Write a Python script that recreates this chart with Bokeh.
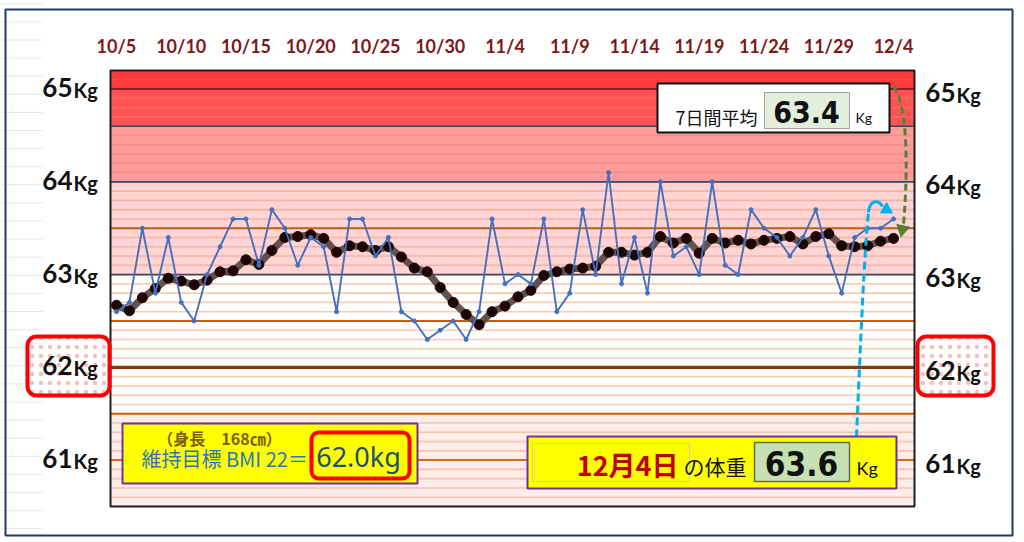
import numpy as np
from bokeh.plotting import figure
from bokeh.models import Range1d
from bokeh.core.properties import value
from bokeh.embed import file_html
from bokeh.resources import INLINE

# ---------------- data ----------------
days = list(range(61))  # 0 = 10/5 ... 60 = 12/4
date_ticks = [0, 5, 10, 15, 20, 25, 30, 35, 40, 45, 50, 55, 60]
date_labels = ["10/5", "10/10", "10/15", "10/20", "10/25", "10/30", "11/4",
               "11/9", "11/14", "11/19", "11/24", "11/29", "12/4"]
daily_weight = [62.6, 62.7, 63.5, 62.8, 63.4, 62.7, 62.5, 63.0, 63.3, 63.6,
                63.6, 63.1, 63.7, 63.5, 63.1, 63.4, 63.3, 62.6, 63.6, 63.6,
                63.2, 63.4, 62.6, 62.5, 62.3, 62.4, 62.5, 62.3, 62.6, 63.6,
                62.9, 63.0, 62.9, 63.6, 62.6, 62.8, 63.7, 63.0, 64.1, 62.9,
                63.4, 62.8, 64.0, 63.2, 63.3, 63.0, 64.0, 63.1, 63.0, 63.7,
                63.5, 63.4, 63.2, 63.4, 63.7, 63.2, 62.8, 63.4, 63.5, 63.5,
                63.6]
avg7_weight = [62.67, 62.61, 62.75, 62.85, 62.96, 62.93, 62.89, 62.94, 63.03, 63.04,
               63.16, 63.11, 63.26, 63.40, 63.41, 63.43, 63.39, 63.24, 63.31, 63.30,
               63.26, 63.30, 63.19, 63.07, 63.03, 62.86, 62.70, 62.57, 62.46, 62.60,
               62.66, 62.76, 62.83, 62.99, 63.03, 63.06, 63.07, 63.09, 63.24, 63.24,
               63.21, 63.24, 63.41, 63.34, 63.39, 63.23, 63.39, 63.34, 63.37, 63.33,
               63.37, 63.39, 63.41, 63.33, 63.41, 63.44, 63.31, 63.30, 63.31, 63.36,
               63.39]
weight_ticks = [61, 62, 63, 64, 65]
weight_tick_labels = ["61", "62", "63", "64", "65"]
target_weight = 62.0
height_cm = 168
bmi_target = 22
latest_avg = 63.4
latest_weight = 63.6
latest_date = "12月4日"

# ---------------- layout (pixels -> data) ----------------
W, H = 1024, 542
PL, PR, PT, PB = 110, 914, 70, 506
X_LO, X_HI = -0.46, 61.62
Y_LO, Y_HI = 60.5, 65.2
sx = (X_HI - X_LO) / (PR - PL)
sy = (Y_HI - Y_LO) / (PB - PT)
xs0 = X_LO - PL * sx
xs1 = X_HI + (W - PR) * sx
ys0 = Y_LO - (H - PB) * sy
ys1 = Y_HI + PT * sy


def dx(px):
    return xs0 + px * sx


def dy(py):
    return ys1 - py * sy


NARROW = value("'Liberation Sans Narrow', 'DejaVu Sans Condensed', 'Roboto Condensed', Roboto")

p = figure(width=W, height=H, x_range=Range1d(xs0, xs1), y_range=Range1d(ys0, ys1),
           x_axis_type=None, y_axis_type=None, toolbar_location=None,
           output_backend="svg", min_border=0, outline_line_color=None,
           background_fill_color="white", border_fill_color="white")

# faint sheet gridlines on the far left
for k in range(30):
    yy = 3.3 + 18.1 * k
    p.segment(x0=dx(0), x1=dx(42), y0=dy(yy), y1=dy(yy), line_color="#E6E6E6", line_width=1)

# outer frame
p.quad(left=dx(5), right=dx(1012), top=dy(9), bottom=dy(535), fill_color=None,
       line_color="#203864", line_width=2)

# background bands in the plot area
bands = [(65.0, 65.2, "#FF3A3A"), (64.6, 65.0, "#FF5252"), (64.0, 64.6, "#FF9C9C"),
         (63.0, 64.0, "#FFD4D4"), (60.5, 61.5, "#FDEDE9")]
for lo, hi, c in bands:
    p.quad(left=X_LO, right=X_HI, bottom=lo, top=hi, fill_color=c, line_color=None)

# minor 0.1 kg lines
for k in range(1, 47):
    v = round(60.5 + 0.1 * k, 1)
    if v in (61.0, 61.5, 62.0, 62.5, 63.0, 63.5, 64.0, 64.6, 65.0):
        continue
    if v < 61.5:
        c = "#F6C2AE"
    elif v < 63:
        c = "#F9CDB2"
    elif v < 64:
        c = "#F4B3A6"
    elif v < 64.6:
        c = "#F48E88"
    elif v < 65:
        c = "#FF6767"
    else:
        c = "#FF4C4C"
    p.segment(x0=X_LO, x1=X_HI, y0=v, y1=v, line_color=c, line_width=1.6)

majors = [(61.0, "#D2691E", 2), (61.5, "#C55A11", 2), (62.5, "#C55A11", 2),
          (63.5, "#C55A11", 2), (62.0, "#843C0C", 3.2), (63.0, "#4A3F4F", 1.8),
          (64.0, "#3F4460", 1.8), (64.6, "#3F4460", 1.5), (65.0, "#8B2030", 2)]
for v, c, w in majors:
    p.segment(x0=X_LO, x1=X_HI, y0=v, y1=v, line_color=c, line_width=w)

# 7-day average (thick) and daily weight
p.line(days, avg7_weight, line_color="#5B4A47", line_width=7, line_alpha=0.95)
p.scatter(days, avg7_weight, size=10, fill_color="#1C0606", line_color="#1C0606")
p.line(days, daily_weight, line_color="#4470BE", line_width=1.9)
p.scatter(days, daily_weight, size=4, fill_color="#4470BE", line_color="#4470BE")

# plot area border
p.quad(left=X_LO, right=X_HI, bottom=Y_LO, top=Y_HI, fill_color=None,
       line_color="#1E1E1E", line_width=2)

# date labels (top)
p.text(x=date_ticks, y=[dy(45)] * len(date_ticks), text=date_labels,
       text_font=value("Lato"), text_font_size="18px", text_font_style="bold",
       text_color="#7B1818", text_align="center", text_baseline="middle")

# 62kg highlight boxes
for l, r in ((27, 109), (917, 993)):
    p.quad(left=dx(l), right=dx(r), top=dy(336), bottom=dy(395), fill_color="white",
           hatch_pattern="dot", hatch_color="#F6BFBF", hatch_scale=9, hatch_weight=1,
           line_color="#FF0000", line_width=4, border_radius=9)

# weight labels left and right
tick_py = [PT + (Y_HI - v) / sy for v in weight_ticks]
for xj, off in ((72, -1.5), (955, 3.0)):
    p.text(x=[dx(xj)] * 5, y=[dy(t + off) for t in tick_py], text=weight_tick_labels,
           text_font=value("Lato"), text_font_size="26px", text_font_style="bold",
           text_color="#111111", text_align="right", text_baseline="middle")
    p.text(x=[dx(xj + 1)] * 5, y=[dy(t + off + 2.5) for t in tick_py], text=["Kg"] * 5,
           text_font=value("Lato"), text_font_size="20px", text_font_style="bold",
           text_color="#111111", text_align="left", text_baseline="middle")

# 7-day average box
p.quad(left=dx(657), right=dx(889), top=dy(83), bottom=dy(132), fill_color="white",
       line_color="#111111", line_width=2)
p.quad(left=dx(764), right=dx(849), top=dy(92), bottom=dy(128), fill_color="#E2EFDA",
       line_color="#A0A0A0", line_width=1)
p.text(x=[dx(716)], y=[dy(116)], text=["7日間平均"], text_font=value("Noto Sans CJK JP"),
       text_font_size="18px", text_color="#111111", text_align="center", text_baseline="middle")
p.text(x=[dx(806)], y=[dy(111)], text=[f"{latest_avg:.1f}"],
       text_font=NARROW, text_font_size="30px",
       text_font_style="bold", text_color="#111111", text_align="center", text_baseline="middle")
p.text(x=[dx(855)], y=[dy(117)], text=["Kg"], text_font=value("Lato"),
       text_font_size="14px", text_color="#111111", text_align="left", text_baseline="middle")

# green dashed arrow (average)
p.bezier(x0=[dx(893)], y0=[dy(86)], x1=[dx(903)], y1=[dy(224)], cx0=[dx(910)], cy0=[dy(108)],
         cx1=[dx(906)], cy1=[dy(190)], line_color="#548235", line_width=3, line_dash="7 4")
p.scatter(x=[dx(902)], y=[dy(229)], marker="triangle", size=13, angle=np.pi - 0.2,
          fill_color="#548235", line_color="#548235")

# cyan dashed arrow (latest)
p.bezier(x0=[dx(856)], y0=[dy(437)], x1=[dx(868)], y1=[dy(212)], cx0=[dx(860)], cy0=[dy(340)],
         cx1=[dx(864)], cy1=[dy(250)], line_color="#00B0F0", line_width=3, line_dash="8 4")
p.bezier(x0=[dx(868)], y0=[dy(212)], x1=[dx(882)], y1=[dy(206)], cx0=[dx(869)], cy0=[dy(199)],
         cx1=[dx(878)], cy1=[dy(199)], line_color="#00B0F0", line_width=3)
p.scatter(x=[dx(886)], y=[dy(209)], marker="triangle", size=12, angle=-2.1,
          fill_color="#00B0F0", line_color="#00B0F0")

# BMI target box (bottom-left)
p.quad(left=dx(122), right=dx(417), top=dy(423), bottom=dy(483), fill_color="#FFFF00",
       line_color="#7030A0", line_width=2)
p.quad(left=dx(311), right=dx(409), top=dy(432), bottom=dy(478), fill_color="#FFFF00",
       line_color="#FF0000", line_width=4, border_radius=7)
p.text(x=[dx(219)], y=[dy(437)], text=[f"（身長　{height_cm}㎝）"],
       text_font=value("Noto Sans CJK JP"), text_font_size="16px", text_font_style="bold",
       text_color="#7F6000", text_align="center", text_baseline="middle")
p.text(x=[dx(141)], y=[dy(458)], text=[f"維持目標 BMI {bmi_target}＝"],
       text_font=value("Noto Sans CJK JP"), text_font_size="20px",
       text_color="#2E75B6", text_align="left", text_baseline="middle")
p.text(x=[dx(358)], y=[dy(456)], text=[f"{target_weight:.1f}kg"],
       text_font=value("Noto Sans"), text_font_size="27px",
       text_color="#1F4E79", text_align="center", text_baseline="middle")

# latest weight box (bottom-right)
p.quad(left=dx(527), right=dx(896), top=dy(436), bottom=dy(488), fill_color="#FFFF00",
       line_color="#7030A0", line_width=2)
p.quad(left=dx(532), right=dx(689), top=dy(443), bottom=dy(481), fill_color=None,
       line_color="#CFCFA8", line_width=1)
p.quad(left=dx(754), right=dx(849), top=dy(442), bottom=dy(481), fill_color="#C6E0B4",
       line_color="#5F6B55", line_width=1.5)
p.text(x=[dx(678)], y=[dy(464)], text=[latest_date], text_font=value("Noto Sans CJK JP"),
       text_font_size="27px", text_font_style="bold", text_color="#C00000",
       text_align="right", text_baseline="middle")
p.text(x=[dx(683)], y=[dy(465)], text=["の体重"], text_font=value("Noto Sans CJK JP"),
       text_font_size="21px", text_color="#111111", text_align="left", text_baseline="middle")
p.text(x=[dx(801)], y=[dy(463)], text=[f"{latest_weight:.1f}"],
       text_font=NARROW, text_font_size="33px",
       text_font_style="bold", text_color="#111111", text_align="center", text_baseline="middle")
p.text(x=[dx(856)], y=[dy(467)], text=["Kg"], text_font=value("Lato"),
       text_font_size="18px", text_color="#111111", text_align="left", text_baseline="middle")

open("out.html", "w").write(file_html(p, INLINE))
